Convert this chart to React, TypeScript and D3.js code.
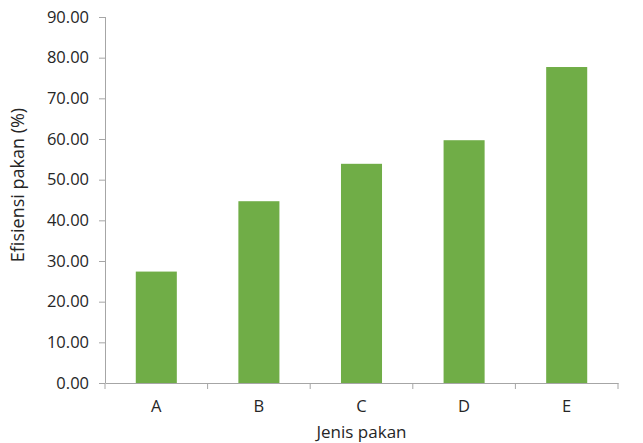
import React, { useEffect, useRef } from "react";
import * as d3 from "d3";

const categories = ["A", "B", "C", "D", "E"];
const values = [27.4, 44.7, 53.9, 59.7, 77.7];
const yTicks = [0, 10, 20, 30, 40, 50, 60, 70, 80, 90];

export default function App() {
  const svgRef = useRef<SVGSVGElement>(null);

  useEffect(() => {
    const svg = d3.select(svgRef.current);
    const width = 643;
    const height = 443;
    const margin = { top: 17, right: 25, bottom: 60, left: 105 };
    const font = "'Open Sans', sans-serif";
    const axisColor = "#a6a6a6";
    const textColor = "#262626";

    svg.selectAll("*").remove();

    const x = d3
      .scaleBand()
      .domain(categories)
      .range([margin.left, width - margin.right])
      .paddingInner(0.6)
      .paddingOuter(0.3);

    const y = d3
      .scaleLinear()
      .domain([0, 90])
      .range([height - margin.bottom, margin.top]);

    const band = d3
      .scaleBand()
      .domain(categories)
      .range([margin.left, width - margin.right]);

    svg
      .append("g")
      .selectAll("rect")
      .data(values)
      .enter()
      .append("rect")
      .attr("x", (d, i) => x(categories[i])!)
      .attr("y", (d) => y(d))
      .attr("width", x.bandwidth())
      .attr("height", (d) => y(0) - y(d))
      .attr("fill", "#70ad47");

    // y axis
    const yAxis = svg
      .append("g")
      .attr("transform", `translate(${margin.left},0)`)
      .call(
        d3
          .axisLeft(y)
          .tickValues(yTicks)
          .tickSize(6)
          .tickPadding(10)
          .tickFormat((d) => d3.format(".2f")(d as number))
      );
    yAxis.select(".domain").attr("stroke", axisColor).attr("d", `M0.5,${margin.top}V${y(0)}`);
    yAxis.selectAll(".tick line").attr("stroke", axisColor);
    yAxis
      .selectAll(".tick text")
      .attr("fill", textColor)
      .style("font-family", font)
      .style("font-size", "16.5px");

    // x axis
    const xAxis = svg
      .append("g")
      .attr("transform", `translate(0,${y(0)})`)
      .call(d3.axisBottom(band).tickSize(0).tickPadding(17));
    xAxis.select(".domain").attr("stroke", axisColor);
    xAxis.selectAll(".tick text").attr("fill", textColor).style("font-family", font).style("font-size", "16.5px");

    // category separators
    svg
      .append("g")
      .selectAll("line")
      .data(categories.concat(["end"]))
      .enter()
      .append("line")
      .attr("x1", (d, i) => margin.left + band.step() * i)
      .attr("x2", (d, i) => margin.left + band.step() * i)
      .attr("y1", y(0))
      .attr("y2", y(0) + 6)
      .attr("stroke", axisColor);

    svg
      .append("text")
      .attr("x", (margin.left + width - margin.right) / 2)
      .attr("y", 438)
      .attr("text-anchor", "middle")
      .attr("fill", textColor)
      .style("font-family", font)
      .style("font-size", "17px")
      .text("Jenis pakan");

    svg
      .append("text")
      .attr("transform", `translate(24,185) rotate(-90)`)
      .attr("text-anchor", "middle")
      .attr("fill", textColor)
      .style("font-family", font)
      .style("font-size", "18px")
      .text("Efisiensi pakan (%)");
  }, []);

  return <svg ref={svgRef} width="643" height="443" style={{ position: "absolute", left: 0, top: 0 }} />;
}
